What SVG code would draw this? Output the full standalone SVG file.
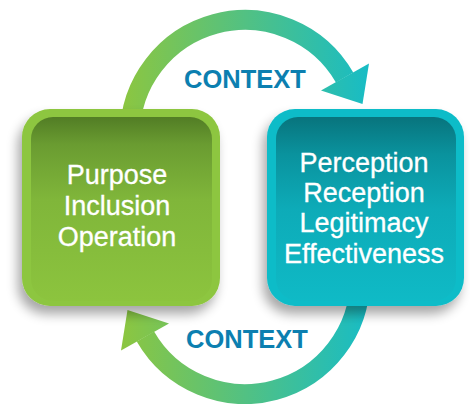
<svg xmlns="http://www.w3.org/2000/svg" width="470" height="404" viewBox="0 0 470 404">
  <defs>
    <linearGradient id="arcGrad" gradientUnits="userSpaceOnUse" x1="120" y1="0" x2="372" y2="0">
      <stop offset="0" stop-color="#8dc63f"/>
      <stop offset="1" stop-color="#16bcc7"/>
    </linearGradient>
    <linearGradient id="greenInner" x1="0" y1="0" x2="0" y2="1">
      <stop offset="0" stop-color="#527d25"/>
      <stop offset="0.15" stop-color="#6a9c31"/>
      <stop offset="0.45" stop-color="#80b63a"/>
      <stop offset="1" stop-color="#8cc43e"/>
    </linearGradient>
    <linearGradient id="tealInner" x1="0" y1="0" x2="0" y2="1">
      <stop offset="0" stop-color="#08747d"/>
      <stop offset="0.2" stop-color="#0a929d"/>
      <stop offset="0.5" stop-color="#0dabb8"/>
      <stop offset="1" stop-color="#0fbac6"/>
    </linearGradient>
    <filter id="shadow" x="-20%" y="-20%" width="140%" height="150%">
      <feGaussianBlur in="SourceAlpha" stdDeviation="6"/>
      <feOffset dx="-4" dy="8" result="b"/>
      <feComponentTransfer><feFuncA type="linear" slope="0.35"/></feComponentTransfer>
      <feMerge><feMergeNode/><feMergeNode in="SourceGraphic"/></feMerge>
    </filter>
  </defs>
  <style>
    .arc { fill: none; stroke: url(#arcGrad); stroke-width: 20; }
    .head { fill: url(#arcGrad); }
    .ctx { font-family: "Liberation Sans", Arial, sans-serif; font-weight: bold; font-size: 25.5px; fill: #0c7fb0; text-anchor: middle; }
    .lbl { font-family: "Liberation Sans", Arial, sans-serif; font-size: 27px; fill: #ffffff; text-anchor: middle; stroke: #ffffff; stroke-width: 0.3; }
  </style>

  <g id="connectors">
    <path class="arc" d="M130,135 A115,115 0 0 1 344.6,77.5"/>
    <polygon class="head" points="369,63.5 362.5,104 321,90.5"/>
    <path class="arc" d="M360,279 A115,115 0 0 1 145.4,336.5"/>
    <polygon class="head" points="121,350.5 127.5,310 169,323.5"/>
    <text class="ctx" x="245" y="88">CONTEXT</text>
    <text class="ctx" x="247" y="348">CONTEXT</text>
  </g>

  <g id="node-left">
    <rect x="22" y="109" width="198" height="197" rx="28" fill="#8dc63f" filter="url(#shadow)"/>
    <rect x="31" y="117" width="181" height="184" rx="22" fill="url(#greenInner)"/>
    <text class="lbl" x="117" y="184">Purpose</text>
    <text class="lbl" x="117" y="215">Inclusion</text>
    <text class="lbl" x="117" y="246">Operation</text>
  </g>

  <g id="node-right">
    <rect x="267" y="109" width="197" height="197" rx="28" fill="#0fbcc8" filter="url(#shadow)"/>
    <rect x="276" y="117" width="180" height="184" rx="22" fill="url(#tealInner)"/>
    <text class="lbl" x="364" y="172">Perception</text>
    <text class="lbl" x="364" y="202">Reception</text>
    <text class="lbl" x="364" y="232">Legitimacy</text>
    <text class="lbl" x="364" y="263">Effectiveness</text>
  </g>
</svg>
